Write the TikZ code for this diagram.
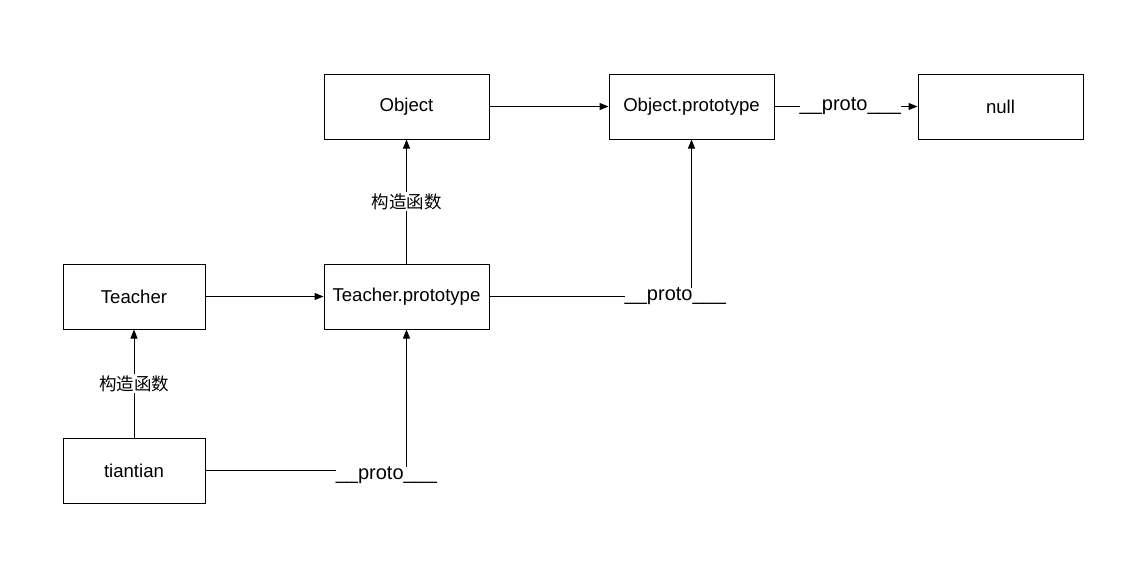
\documentclass[tikz,border=0pt]{standalone}
\usepackage{fontspec}
\setmainfont{Liberation Sans}
\newfontfamily\cjk{Noto Sans CJK SC}
\usetikzlibrary{arrows.meta}

\begin{document}
\begin{tikzpicture}[x=1pt, y=-1pt,
  box/.style={draw, line width=1pt, minimum width=165pt, minimum height=65pt, inner sep=0pt, font=\fontsize{18.6}{20}\selectfont},
  smallbox/.style={box, minimum width=142pt},
  link/.style={line width=1pt, -{Triangle[length=9pt,width=7pt]}},
  protolabel/.style={fill=white, inner sep=0pt, font=\fontsize{20}{22}\selectfont},
  ctorlabel/.style={fill=white, inner sep=1pt, font=\cjk\fontsize{17.5}{19}\selectfont}]
\useasboundingbox (0,0) rectangle (1125,587);
\node[box] (object) at (406.5,106.5) {Object};
\node[box] (objproto) at (691.5,106.5) {Object.prototype};
\node[box] (null) at (1000.5,106.5) {null};
\node[smallbox] (teacher) at (134,296.5) {Teacher};
\node[box] (teachproto) at (406.5,296.5) {Teacher.prototype};
\node[smallbox] (tiantian) at (134,470.5) {tiantian};
\draw[link] (object) -- (objproto);
\draw[link] (objproto) -- node[protolabel, pos=0.53] {\_\_proto\_\_\_} (null);
\draw[link] (teacher) -- (teachproto);
\draw[link] (teachproto) -- node[ctorlabel] {构造函数} (object);
\draw[link] (tiantian) -- node[ctorlabel] {构造函数} (teacher);
\draw[link] (teachproto.east) -| node[protolabel, pos=0.46] {\_\_proto\_\_\_} (objproto.south);
\draw[link] (tiantian.east) -| node[protolabel, pos=0.45, yshift=-5pt] {\_\_proto\_\_\_} (teachproto.south);
\end{tikzpicture}
\end{document}
